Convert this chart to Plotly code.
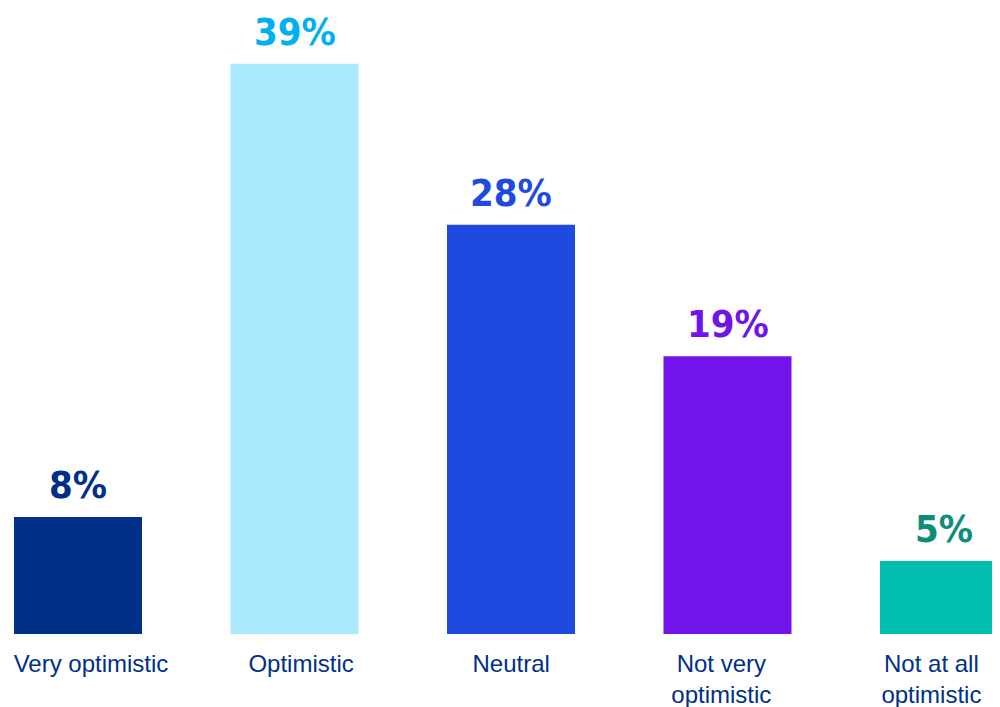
import plotly.graph_objects as go

categories = ["Very optimistic", "Optimistic", "Neutral", "Not very<br>optimistic", "Not at all<br>optimistic"]
values = [8, 39, 28, 19, 5]
value_labels = ["8%", "39%", "28%", "19%", "5%"]
bar_colors = ["#003087", "#ABE9FF", "#1F4AE0", "#7213EA", "#00BFAE"]
text_colors = ["#003087", "#00B0F0", "#1F4AE0", "#7213EA", "#0E8C7B"]

# page body has an 8px margin; figure is sized/placed to compensate
W, H = 992, 699
step = 216.5          # bar spacing (px)
first_center = 70     # first bar centre (px, figure coords)
label_step = 210.1    # category label spacing (px)
label_first = 83      # first label centre (px, figure coords)
base_y = 626
top_m = 30
px_per_unit = 14.62

n = len(categories)
fig = go.Figure()
fig.add_trace(go.Bar(
    x=list(range(n)),
    y=values,
    marker=dict(color=bar_colors, line=dict(width=0)),
    width=128 / step,
    hoverinfo="skip",
))
# invisible helper trace to carry the category label axis
fig.add_trace(go.Scatter(
    x=list(range(n)), y=[0] * n, xaxis="x2", mode="markers",
    marker=dict(opacity=0), hoverinfo="skip",
))

for i, (v, t, c) in enumerate(zip(values, value_labels, text_colors)):
    fig.add_annotation(
        x=i, y=v, text=t, showarrow=False,
        yanchor="bottom", yshift=8,
        font=dict(family="DejaVu Sans Condensed, DejaVu Sans, sans-serif",
                  size=38, color=c, weight="bold"),
    )

fig.update_layout(
    width=W, height=H,
    margin=dict(l=0, r=0, t=top_m, b=H - base_y),
    paper_bgcolor="white", plot_bgcolor="white",
    showlegend=False,
    xaxis=dict(
        range=[-first_center / step, (W - first_center) / step],
        showticklabels=False,
        showgrid=False, zeroline=False, showline=False, ticks="",
    ),
    xaxis2=dict(
        overlaying="x", side="bottom",
        range=[-label_first / label_step, (W - label_first) / label_step],
        tickmode="array",
        tickvals=list(range(n)),
        ticktext=categories,
        showgrid=False, zeroline=False, showline=False, ticks="",
        tickfont=dict(family="Liberation Sans, Arial, sans-serif", size=24, color="#003087"),
        ticklabelstandoff=13,
        ticklabeloverflow="allow",
    ),
    yaxis=dict(
        range=[0, (base_y - top_m) / px_per_unit],
        visible=False, showgrid=False, zeroline=False,
    ),
)

fig.write_html("out.html")
